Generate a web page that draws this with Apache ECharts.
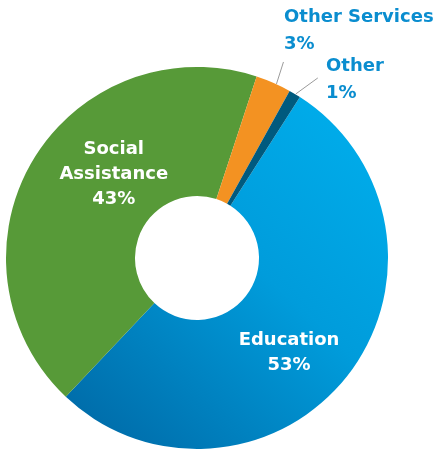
<!DOCTYPE html>
<html><head><meta charset="utf-8">
<script src="https://cdn.jsdelivr.net/npm/echarts@6/dist/echarts.min.js"></script>
<style>html,body{margin:0;padding:0;background:#fff}#c{width:439px;height:451px}</style>
</head><body><div id="c"></div>
<script>
const categories = ['Education', 'Social Assistance', 'Other Services', 'Other'];
const values = [53, 43, 3, 1];
const labelNames = ['Education', 'Social\nAssistance', 'Other Services', 'Other'];

const FONT = '"DejaVu Sans", sans-serif';
const colors = [
  new echarts.graphic.LinearGradient(1, 0, 0, 1, [
    {offset: 0, color: '#00B0EE'},
    {offset: 0.45, color: '#009CDB'},
    {offset: 1, color: '#0066A3'}
  ]),
  '#579A38', '#F39222', '#005A7E'
];

const insideLabel = {
  show: true, position: 'inside', color: '#fff', fontFamily: FONT,
  fontWeight: 'bold', fontSize: 18, lineHeight: 25,
  formatter: p => labelNames[p.dataIndex] + '\n' + p.value + '%'
};
const outsideLabel = {
  show: true, position: 'outside', color: '#0A8DCF', fontFamily: FONT,
  fontWeight: 'bold', fontSize: 18, lineHeight: 27, align: 'left',
  formatter: p => labelNames[p.dataIndex] + '\n' + p.value + '%'
};

const data = categories.map((c, i) => ({
  name: c, value: values[i],
  itemStyle: {color: colors[i]},
  label: i < 2 ? insideLabel : outsideLabel,
  labelLine: {show: i >= 2, lineStyle: {color: '#9a9a9a', width: 1}}
}));

const chart = echarts.init(document.getElementById('c'));
chart.setOption({
  animation: false,
  series: [{
    type: 'pie',
    center: [197, 258],
    radius: [62, 191],
    startAngle: 57.4,
    clockwise: true,
    avoidLabelOverlap: false,
    itemStyle: {borderWidth: 0},
    emphasis: {disabled: true},
    data: data,
    labelLayout: function (p) {
      const i = p.dataIndex;
      if (i === 0) return {dx: -10, dy: 15};
      if (i === 1) return {dx: 28, dy: -17};
      const a = p.labelLinePoints ? p.labelLinePoints[0] : [0, 0];
      if (i === 2) {
        const e = [a[0] + 10, a[1] - 21];
        return {x: 284, y: 31, align: 'left', verticalAlign: 'middle',
          labelLinePoints: [[a[0] + 3, a[1] + 1], e, e]};
      }
      const e = [a[0] + 23, a[1] - 16];
      return {x: 326, y: 80, align: 'left', verticalAlign: 'middle',
        labelLinePoints: [[a[0] + 1, a[1]], e, e]};
    }
  }]
});
</script></body></html>
